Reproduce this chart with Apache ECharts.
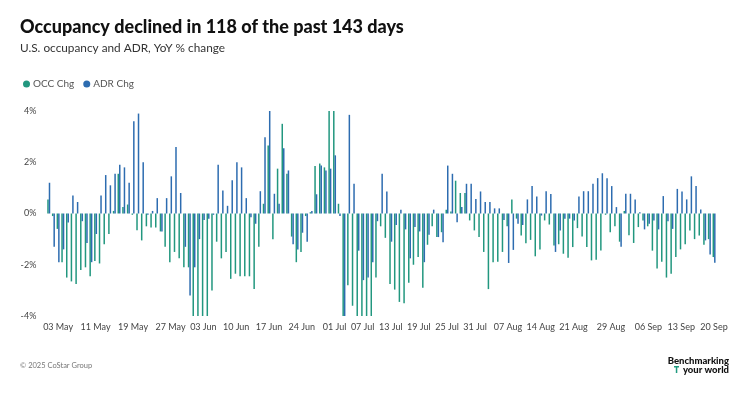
<!DOCTYPE html>
<html>
<head>
<meta charset="utf-8">
<script src="https://cdn.jsdelivr.net/npm/echarts@6/dist/echarts.min.js"></script>
<style>
html,body{margin:0;padding:0;background:#fff;}
#chart{width:750px;height:393px;}
</style>
</head>
<body>
<div id="chart"></div>
<script>
var dates = [
'01 May','02 May','03 May','04 May','05 May','06 May','07 May','08 May','09 May','10 May',
'11 May','12 May','13 May','14 May','15 May','16 May','17 May','18 May','19 May','20 May',
'21 May','22 May','23 May','24 May','25 May','26 May','27 May','28 May','29 May','30 May','31 May',
'01 Jun','02 Jun','03 Jun','04 Jun','05 Jun','06 Jun','07 Jun','08 Jun','09 Jun','10 Jun',
'11 Jun','12 Jun','13 Jun','14 Jun','15 Jun','16 Jun','17 Jun','18 Jun','19 Jun','20 Jun',
'21 Jun','22 Jun','23 Jun','24 Jun','25 Jun','26 Jun','27 Jun','28 Jun','29 Jun','30 Jun',
'01 Jul','02 Jul','03 Jul','04 Jul','05 Jul','06 Jul','07 Jul','08 Jul','09 Jul','10 Jul',
'11 Jul','12 Jul','13 Jul','14 Jul','15 Jul','16 Jul','17 Jul','18 Jul','19 Jul','20 Jul',
'21 Jul','22 Jul','23 Jul','24 Jul','25 Jul','26 Jul','27 Jul','28 Jul','29 Jul','30 Jul','31 Jul',
'01 Aug','02 Aug','03 Aug','04 Aug','05 Aug','06 Aug','07 Aug','08 Aug','09 Aug','10 Aug',
'11 Aug','12 Aug','13 Aug','14 Aug','15 Aug','16 Aug','17 Aug','18 Aug','19 Aug','20 Aug',
'21 Aug','22 Aug','23 Aug','24 Aug','25 Aug','26 Aug','27 Aug','28 Aug','29 Aug','30 Aug','31 Aug',
'01 Sep','02 Sep','03 Sep','04 Sep','05 Sep','06 Sep','07 Sep','08 Sep','09 Sep','10 Sep',
'11 Sep','12 Sep','13 Sep','14 Sep','15 Sep','16 Sep','17 Sep','18 Sep','19 Sep','20 Sep'
];

var tickLabels = ['03 May','11 May','19 May','27 May','03 Jun','10 Jun','17 Jun','24 Jun',
'01 Jul','07 Jul','13 Jul','19 Jul','25 Jul','31 Jul','07 Aug','14 Aug','21 Aug','29 Aug',
'06 Sep','13 Sep','20 Sep'];

var occChg = [
0.55,-0.1,-0.6,-1.9,-2.5,-2.65,-2.75,-2.2,-2.1,-2.45,
-1.85,-1.95,-1.2,-0.8,0.1,1.55,0.25,0.35,-0.05,-0.65,
-1.05,-0.5,-0.55,-0.55,-0.7,-1.3,-1.9,-1.5,-1.75,-2.1,
-2.1,-4.3,-4.3,-4.3,-4.3,-3.0,-1.1,-1.75,-1.5,-2.55,
-2.35,-2.45,-2.45,-2.45,-2.95,-1.3,0.38,2.65,-1.0,1.75,
3.5,1.55,-0.9,-1.9,-1.5,-0.1,0.05,1.85,1.95,1.8,
4.3,4.3,0.38,-4.3,-2.8,-3.6,-4.3,-4.3,-4.3,-4.3,
-2.5,-0.5,-0.95,-2.75,-2.97,-3.45,-3.5,-2.7,-2.0,-1.7,
-2.9,-1.22,-0.5,-0.92,-0.73,0.15,0.08,1.28,0.8,0.8,
-0.27,-0.66,-0.92,-1.5,-2.95,-1.9,-1.88,-1.5,-0.5,0.55,
-0.2,-0.86,-1.16,-1.03,-1.67,-1.4,-0.27,-0.43,-1.25,-1.2,
-1.57,-1.73,-1.31,-0.57,-0.9,-1.31,-1.83,-1.8,-1.44,-0.05,
-0.73,-0.5,-1.1,0.1,-0.85,-1.15,-0.53,-0.27,-0.5,-1.45,
-2.15,-1.88,-2.5,-2.35,-1.7,-1.4,-1.2,-0.66,-1.0,-0.86,
-1.22,-1.0,-1.7
];

var adrChg = [
1.2,-1.3,-1.9,-1.4,-0.35,0.7,0.45,-0.3,-1.15,-1.9,
-0.8,0.7,1.5,1.1,1.55,1.9,1.8,1.2,3.6,3.9,
2.0,-0.05,0.1,0.6,-0.7,0.6,1.45,2.6,0.8,-1.3,
-3.2,-2.1,-1.0,-0.25,-0.2,-0.05,1.9,0.9,0.3,1.3,
2.0,1.8,0.6,-0.15,-0.4,0.87,2.98,4.1,0.77,0.38,
2.55,1.68,-1.2,-1.4,-0.75,-1.1,0.1,0.75,1.87,1.68,
1.75,2.27,-0.1,-4.3,3.85,1.16,-1.45,-2.6,-2.5,-1.9,
-0.3,1.55,0.86,-1.1,-0.45,0.15,-0.62,-1.75,-0.53,-0.7,
-1.9,-0.83,0.15,-0.92,-1.12,1.87,1.55,-0.34,0.25,1.16,
1.16,0.57,0.86,0.45,0.45,0.2,0.2,-0.25,-1.93,-1.42,
-0.4,-0.45,0.55,1.07,0.66,-0.08,0.87,0.76,-1.5,-0.66,
-0.2,-0.2,-0.27,0.66,0.87,0.87,1.16,1.38,1.57,1.38,
1.07,0.25,-1.3,0.77,0.77,0.55,0.05,-0.62,-0.4,-0.27,
-0.62,0.68,-0.3,-0.6,0.96,0.86,0.55,1.45,1.07,0.16,
-1.05,-1.6,-1.92
];

var seriesNames = ['OCC Chg','ADR Chg'];
var occColor = '#22977f';
var adrColor = '#2d6cb0';

var chart = echarts.init(document.getElementById('chart'), null, {renderer:'canvas'});
chart.setOption({
  backgroundColor:'#ffffff',
  animation:false,
  textStyle:{fontFamily:'Lato'},
  graphic:[
    {type:'text', left:20, top:18, style:{text:'Occupancy declined in 118 of the past 143 days', font:'900 18px Lato', fill:'#111'}},
    {type:'text', left:20, top:42, style:{text:'U.S. occupancy and ADR, YoY % change', font:'400 11.8px Lato', fill:'#333'}},
    {type:'text', left:20, top:362, style:{text:'\u00a9 2025 CoStar Group', font:'400 7.5px Lato', fill:'#777'}},
    {type:'text', right:21, top:356, style:{text:'Benchmarking', font:'900 9.5px Lato', fill:'#111', align:'right'}},
    {type:'text', right:21, top:365, style:{text:'your world', font:'900 9.5px Lato', fill:'#111', align:'right'}},
    {type:'rect', shape:{x:674, y:366, width:5, height:1.5}, style:{fill:'#1f9a80'}},
    {type:'rect', shape:{x:675.8, y:366, width:1.5, height:7}, style:{fill:'#1f9a80'}}
  ],
  legend:{
    data:seriesNames,
    left:18, top:74,
    icon:'circle',
    itemWidth:7, itemHeight:7, itemGap:9,
    textStyle:{fontSize:10, color:'#555', fontFamily:'Lato', padding:[0,0,0,-2]}
  },
  grid:{left:46.4, right:33.6, top:111, bottom:77, containLabel:false},
  xAxis:{
    type:'category',
    data:dates,
    axisLine:{show:false},
    axisTick:{show:false},
    axisLabel:{
      interval:function(i, v){ return tickLabels.indexOf(v) >= 0; },
      fontSize:9, color:'#444', margin:7, fontFamily:'Lato'
    },
    splitLine:{show:false}
  },
  yAxis:{
    type:'value',
    min:-4, max:4, interval:2,
    axisLine:{show:false},
    axisTick:{show:false},
    splitLine:{show:false},
    axisLabel:{formatter:'{value}%', fontSize:9, color:'#444', margin:10, fontFamily:'Lato'}
  },
  series:[
    {name:seriesNames[0], type:'bar', data:occChg, barWidth:1.5, barGap:'0%', itemStyle:{color:occColor}, clip:true},
    {name:seriesNames[1], type:'bar', data:adrChg, barWidth:1.5, barGap:'0%', itemStyle:{color:adrColor}, clip:true}
  ]
});
</script>
</body>
</html>
